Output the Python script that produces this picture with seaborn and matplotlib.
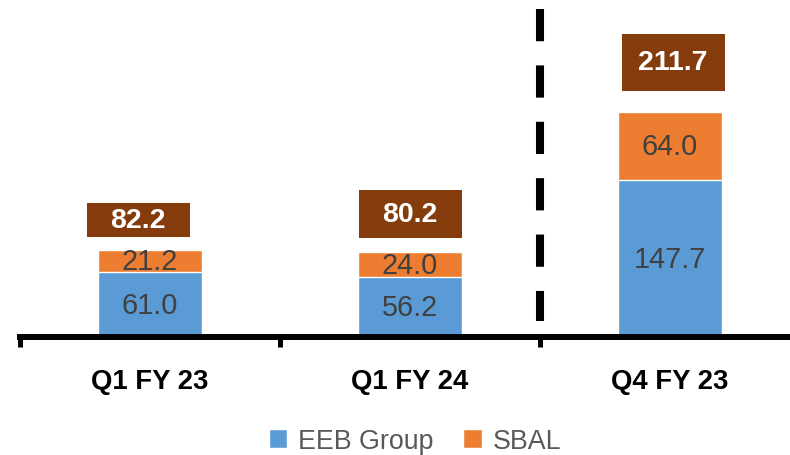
import pandas as pd
import seaborn as sns
import matplotlib.pyplot as plt
from matplotlib.patches import Patch, Rectangle
from matplotlib.transforms import blended_transform_factory

# chart data
categories = ["Q1 FY 23", "Q1 FY 24", "Q4 FY 23"]
eeb_group = [61.0, 56.2, 147.7]
sbal = [21.2, 24.0, 64.0]
totals = [82.2, 80.2, 211.7]

# colours
BLUE = "#5B9BD5"
ORANGE = "#ED7D31"
BROWN = "#843C0C"
DARK = "#404040"

sns.set_theme(style="white")
plt.rcParams["font.family"] = ["Liberation Sans", "DejaVu Sans"]

df = pd.DataFrame({"cat": categories, "eeb": eeb_group, "sbal": sbal, "total": totals})
df["stack"] = df["eeb"] + df["sbal"]

W, H = 790, 456
fig = plt.figure(figsize=(W / 100, H / 100), dpi=100)
ax_h = 338
ax = fig.add_axes([20 / W, (H - ax_h) / H, 780 / W, ax_h / H])

# stacked bars: full stack in orange, EEB part in blue on top of it
sns.barplot(data=df, x="cat", y="stack", color=ORANGE, saturation=1, width=0.4, ax=ax)
sns.barplot(data=df, x="cat", y="eeb", color=BLUE, saturation=1, width=0.4, ax=ax)

ymax = 318
ax.set_xlim(-0.5, 2.5)
ax.set_ylim(0, ymax)
ppu = ax_h / ymax  # pixels per unit

# segment labels
for i, row in df.iterrows():
    ax.text(i, row["eeb"] / 2, f"{row['eeb']:.1f}", ha="center", va="center",
            fontsize=20.8, color=DARK)
    ax.text(i, row["eeb"] + row["sbal"] / 2, f"{row['sbal']:.1f}", ha="center",
            va="center", fontsize=20.8, color=DARK)

# total labels in brown boxes
box_w = 103 / 260
box_h_px = [34, 48, 57]
box_gap_px = [13, 14, 21]
box_dx_px = [-12, 0, 3]
for i, row in df.iterrows():
    x0 = i + box_dx_px[i] / 260 - box_w / 2
    y0 = row["stack"] + box_gap_px[i] / ppu
    h = box_h_px[i] / ppu
    ax.add_patch(Rectangle((x0, y0), box_w, h, facecolor=BROWN, edgecolor="none",
                           clip_on=False, zorder=3))
    ax.text(x0 + box_w / 2, y0 + h / 2, f"{row['total']:.1f}", ha="center",
            va="center", fontsize=20.5, fontweight="bold", color="white", zorder=4)

# dashed separator
trans = blended_transform_factory(ax.transData, ax.transAxes)
ax.plot([1.5, 1.5], [(ax_h - 10) / ax_h, (ax_h - 322) / ax_h], transform=trans,
        color="black", lw=5.8, linestyle=(0, (4, 3)), clip_on=False, zorder=5)

# axes styling
for side in ["top", "left", "right"]:
    ax.spines[side].set_visible(False)
ax.spines["bottom"].set_color("black")
ax.spines["bottom"].set_linewidth(4.3)
ax.set_yticks([])
ax.set_xlabel("")
ax.set_ylabel("")
ax.set_xticks([0, 1, 2])
ax.set_xticklabels(categories, fontsize=19.8, fontweight="bold", color="black")
ax.tick_params(axis="x", which="major", length=0, pad=22)
ax.set_xticks([-0.5, 0.5, 1.5, 2.5], minor=True)
ax.tick_params(axis="x", which="minor", direction="out", length=7.5, width=3.6,
               color="black", bottom=True)

handles = [Patch(facecolor=BLUE, label="EEB Group"), Patch(facecolor=ORANGE, label="SBAL")]
leg = fig.legend(handles=handles, loc="center", bbox_to_anchor=(415 / W, 1 - 442 / H),
                 ncol=2, frameon=False, fontsize=19.3, handlelength=0.7,
                 handleheight=0.7, handletextpad=0.4, columnspacing=1.1)
for t in leg.get_texts():
    t.set_color("#595959")

fig.savefig("out.png", dpi=100)
